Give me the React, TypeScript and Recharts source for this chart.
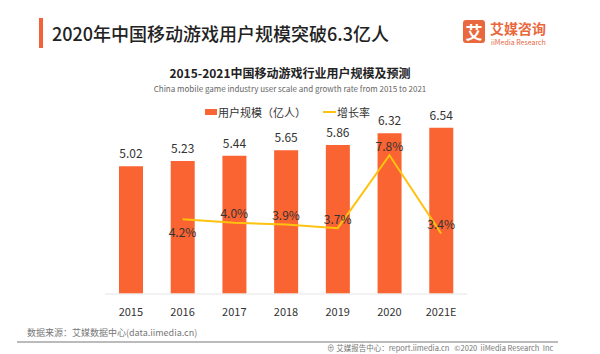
import React from "react";
import { Bar, ComposedChart, LabelList, Line, XAxis, YAxis } from "recharts";

const years = ["2015", "2016", "2017", "2018", "2019", "2020", "2021E"];
const userScale = [5.02, 5.23, 5.44, 5.65, 5.86, 6.32, 6.54];
const growthRate: Array<number | null> = [null, 4.2, 4.0, 3.9, 3.7, 7.8, 3.4];

const data = years.map((name, i) => ({
  name,
  users: userScale[i],
  growth: growthRate[i],
}));

const FONT = "'Noto Sans CJK SC', 'Noto Sans', sans-serif";
const ORANGE = "#fa6332";
const YELLOW = "#ffc20e";

const GrowthLabel = (props: any) => {
  const { x, y, value, index } = props;
  if (value == null) return null;
  const dy = index === 1 ? 12 : -10;
  return (
    <text
      x={x}
      y={y + dy}
      textAnchor="middle"
      dominantBaseline="central"
      fontSize={12}
      fill="#333"
      fontFamily={FONT}
    >
      {value.toFixed(1)}%
    </text>
  );
};

export default function App() {
  return (
    <div
      style={{
        position: "absolute",
        left: 0,
        top: 0,
        width: 600,
        height: 354,
        background: "#fff",
        fontFamily: FONT,
        overflow: "hidden",
      }}
    >
      {/* page header */}
      <div style={{ position: "absolute", left: 39, top: 18, width: 4, height: 30, background: "#f4623a" }} />
      <div
        style={{
          position: "absolute",
          left: 52,
          top: 21,
          fontSize: 18,
          lineHeight: "24px",
          color: "#222",
          fontWeight: 500,
          whiteSpace: "nowrap",
        }}
      >
        2020年中国移动游戏用户规模突破6.3亿人
      </div>

      {/* logo */}
      <div
        style={{
          position: "absolute",
          left: 463,
          top: 20,
          width: 22,
          height: 23,
          background: "#e9683e",
          borderRadius: 3,
          color: "#fff",
          fontSize: 17,
          fontWeight: 700,
          lineHeight: "23px",
          textAlign: "center",
        }}
      >
        艾
      </div>
      <div
        style={{
          position: "absolute",
          left: 490,
          top: 20,
          fontSize: 14,
          lineHeight: "16px",
          color: "#e9683e",
          fontWeight: 700,
          whiteSpace: "nowrap",
        }}
      >
        艾媒咨询
      </div>
      <div
        style={{
          position: "absolute",
          left: 491,
          top: 38,
          fontSize: 7,
          lineHeight: "8px",
          color: "#e9683e",
          whiteSpace: "nowrap",
        }}
      >
        iiMedia Research
      </div>

      {/* chart titles */}
      <div
        style={{
          position: "absolute",
          left: 90,
          width: 400,
          top: 65,
          textAlign: "center",
          fontSize: 12,
          lineHeight: "16px",
          fontWeight: 700,
          color: "#222",
        }}
      >
        2015-2021中国移动游戏行业用户规模及预测
      </div>
      <div
        style={{
          position: "absolute",
          left: 90,
          width: 400,
          top: 83,
          textAlign: "center",
          fontSize: 8,
          lineHeight: "12px",
          color: "#666",
        }}
      >
        China mobile game industry user scale and growth rate from 2015 to 2021
      </div>

      {/* legend */}
      <div
        style={{
          position: "absolute",
          left: 205,
          top: 104,
          display: "flex",
          alignItems: "center",
          fontSize: 11,
          lineHeight: "16px",
          color: "#333",
          whiteSpace: "nowrap",
        }}
      >
        <span style={{ display: "inline-block", width: 12, height: 6, background: ORANGE, marginRight: 1 }} />
        <span>用户规模（亿人）</span>
        <span style={{ display: "inline-block", width: 13, height: 2, background: YELLOW, marginLeft: 17, marginRight: 1 }} />
        <span>增长率</span>
      </div>

      <div style={{ position: "absolute", left: 0, top: 0 }}>
        <ComposedChart
          width={600}
          height={354}
          data={data}
          margin={{ top: 116, right: 133, bottom: 30, left: 105 }}
          barCategoryGap={0}
        >
          <XAxis
            dataKey="name"
            axisLine={{ stroke: "#eeeeee", strokeWidth: 1.5 }}
            tickLine={false}
            height={30}
            tickMargin={8}
            tick={{ fontSize: 11, fill: "#333", fontFamily: FONT }}
            interval={0}
          />
          <YAxis yAxisId="left" hide domain={[0, 7]} />
          <YAxis yAxisId="right" orientation="right" hide domain={[0, 10]} />
          <Bar yAxisId="left" dataKey="users" fill={ORANGE} barSize={24} isAnimationActive={false}>
            <LabelList
              dataKey="users"
              position="top"
              offset={8}
              fontSize={12}
              fill="#333"
              fontFamily={FONT}
              formatter={(v: any) => Number(v).toFixed(2)}
            />
          </Bar>
          <Line
            yAxisId="right"
            dataKey="growth"
            type="linear"
            stroke={YELLOW}
            strokeWidth={2}
            dot={false}
            activeDot={false}
            isAnimationActive={false}
          >
            <LabelList dataKey="growth" content={<GrowthLabel />} />
          </Line>
        </ComposedChart>
      </div>

      {/* footer */}
      <div
        style={{
          position: "absolute",
          left: 27,
          top: 327,
          fontSize: 9,
          lineHeight: "12px",
          color: "#777",
          whiteSpace: "nowrap",
        }}
      >
        数据来源：艾媒数据中心(data.iimedia.cn)
      </div>
      <div style={{ position: "absolute", left: 17, top: 341, width: 541, height: 1.5, background: "#bbb" }} />
      <div
        style={{
          position: "absolute",
          left: 327,
          top: 343,
          fontSize: 7.5,
          lineHeight: "10px",
          color: "#777",
          whiteSpace: "nowrap",
        }}
      >
        ⊕ 艾媒报告中心：report.iimedia.cn&nbsp;&nbsp;&nbsp;©2020&nbsp;&nbsp;iiMedia Research&nbsp;&nbsp;Inc
      </div>
    </div>
  );
}
